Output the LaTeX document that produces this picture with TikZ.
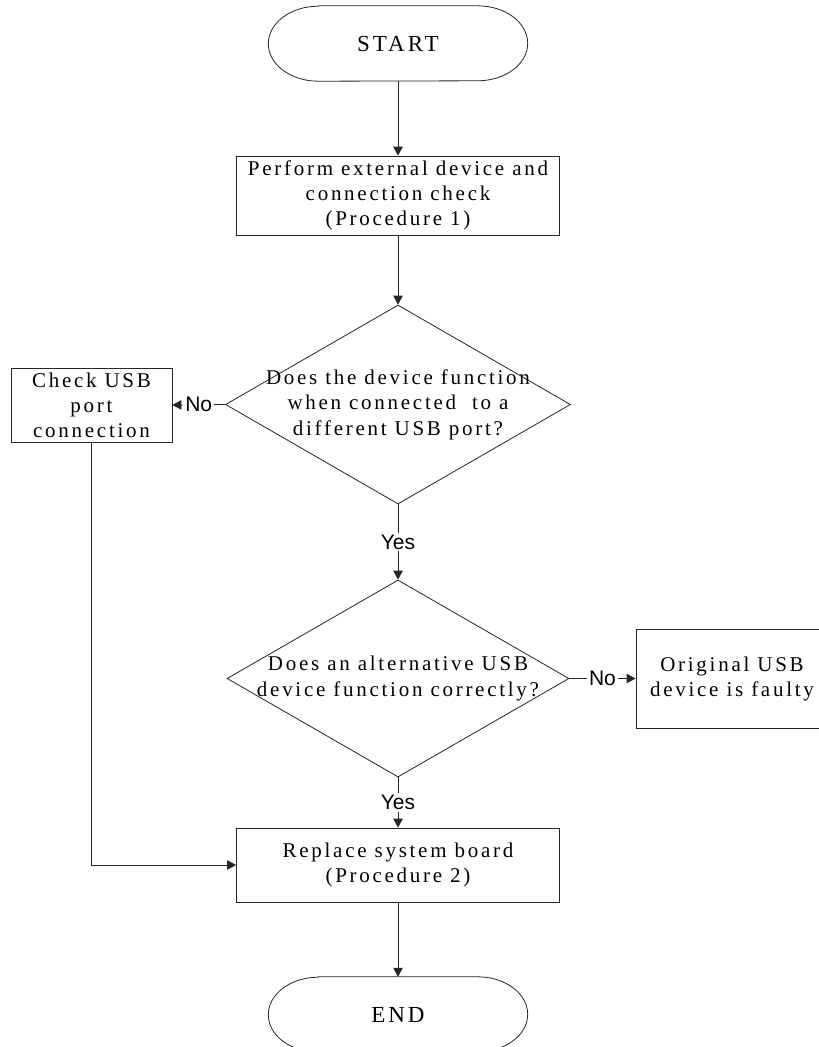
\documentclass[tikz,border=0pt]{standalone}
\usepackage{fontspec}
\setmainfont{Liberation Serif}[LetterSpace=13]
\newfontfamily\answerfont{Liberation Sans}
\usepackage{tikz}
\usetikzlibrary{arrows.meta, shapes.geometric, positioning}
\tikzset{
    term/.style={rectangle, minimum width=259pt, minimum height=75pt, inner sep=0pt, font=\fontsize{23}{28}\selectfont},
    termline/.style={draw=black!85, line width=0.8pt},
    process/.style={rectangle, draw=black!85, line width=0.8pt, fill=white, align=center, inner sep=0pt, font=\fontsize{21}{25}\selectfont},
    decision/.style={diamond, draw=black!85, line width=0.8pt, inner sep=0pt, minimum width=345pt, minimum height=199pt},
    qtext/.style={align=center, inner sep=0pt, font=\fontsize{21}{25.5}\selectfont},
    arrow/.style={-{Triangle[length=9pt, width=9.5pt]}, draw=black!85, line width=0.8pt},
    answer/.style={fill=white, inner sep=2pt, font=\answerfont\fontsize{21}{25}\selectfont}
}
% stadium outline round a terminal node
\newcommand{\termoutline}[1]{%
    \draw[termline] ([xshift=50pt]#1.north west) -- ([xshift=-50pt]#1.north east)
        arc[start angle=90, end angle=-90, x radius=50pt, y radius=37.5pt]
        -- ([xshift=50pt]#1.south west)
        arc[start angle=270, end angle=90, x radius=50pt, y radius=37.5pt] -- cycle;}

\begin{document}
\begin{tikzpicture}[x=1pt, y=-1pt]
    \useasboundingbox (0,0) rectangle (819,1047);
    \fill[white] (0,0) rectangle (819,1047);
    \clip (0,0) rectangle (819,1047);

    % Nodes
    \node[term] (start) at (398,43.5) {START};
    \termoutline{start}
    \node[process, minimum width=323pt, minimum height=79pt] (perform) at (398,195.5) {Perform external device and\\connection check\\(Procedure 1)};
    \node[decision] (dec1) at (398,404.5) {};
    \node[qtext] (dec1txt) at (dec1) {Does the device function\\when connected\ \ to a\\different USB port?};
    \node[process, minimum width=161pt, minimum height=74pt] (check) at (91.5,405) {Check USB\\port\\connection};
    \node[decision, minimum width=342pt, minimum height=197pt] (dec2) at (398,678.5) {};
    \node[qtext] (dec2txt) at (dec2) {Does an alternative USB\\device function correctly?};
    \node[process, minimum width=192pt, minimum height=99pt] (faulty) at (732,678.5) {Original USB\\device is faulty};
    \node[process, minimum width=323pt, minimum height=74pt] (replace) at (398,865) {Replace system board\\(Procedure 2)};
    \node[term] (finish) at (398,1014.5) {END};
    \termoutline{finish}

    % Connectors
    \draw[arrow] (start) -- (perform);
    \draw[arrow] (perform) -- (dec1);
    \draw[arrow] (dec1.west) -- node[answer] {No} (check.east);
    \draw[arrow] (dec1.south) -- node[answer] {Yes} (dec2.north);
    \draw[arrow] (dec2.east) -- node[answer] {No} (faulty.west);
    \draw[arrow] (dec2.south) -- node[answer] {Yes} (replace.north);
    \draw[arrow] (check.south) |- (replace.west);
    \draw[arrow] (replace) -- (finish);
\end{tikzpicture}
\end{document}
